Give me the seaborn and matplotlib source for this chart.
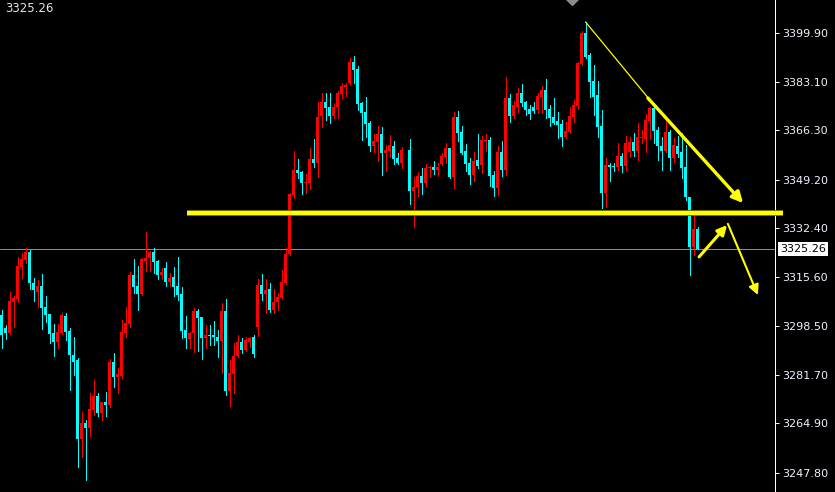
import numpy as np
import pandas as pd
import matplotlib
matplotlib.use("Agg")
import matplotlib.pyplot as plt
import seaborn as sns

# OHLC, one value per candle (NaN = empty slot)
opens = [
    3302.4, 3297.9, 3296.2, 3306.9, 3307.9, 3319.0, 3321.4, 3324.2, 3313.5, 3310.4,
    3312.4, 3305.2, 3302.8, 3296.2, 3293.1, 3296.2, 3302.1, 3296.9, 3288.6, 3286.9,
    3259.5, 3265.1, 3263.3, 3269.6, 3274.4, 3268.5, 3272.3, 3271.3, 3286.2, 3281.0,
    3281.3, 3296.2, 3299.3, 3316.2, 3312.4, 3309.7, 3321.1, 3322.1, 3324.2, 3321.1,
    3316.2, 3318.7, 3313.8, 3315.5, 3312.4, 3309.7, 3297.2, 3294.1, 3296.2, 3303.8,
    3301.7, 3294.5, 3295.5, 3295.5, 3294.8, 3293.4, 3303.8, 3276.1, 3282.0, 3288.2,
    3293.1, 3290.3, 3293.1, 3294.8, 3298.3, 3312.8, 3309.7, 3311.4, 3304.1, 3306.9,
    3308.3, 3313.5, 3323.5, 3343.9, 3352.5, 3351.8, 3348.0, 3348.0, 3356.3, 3355.0,
    3371.2, 3376.0, 3374.3, 3371.2, 3374.3, 3378.8, 3381.2, 3382.6, 3389.9, 3387.5,
    3375.7, 3372.6, 3368.8, 3360.8, 3362.2, 3365.0, 3358.4, 3359.1, 3360.8, 3356.7,
    3355.0, np.nan, 3359.4, 3345.3, 3346.7, 3350.5, 3348.0, 3353.2, 3353.6, 3352.5,
    3354.6, 3357.0, 3360.1, 3350.1, 3370.9, 3365.7, 3359.1, 3355.0, 3350.8, 3356.0,
    3354.3, 3362.6, 3362.9, 3350.8, 3346.3, 3358.8, 3352.5, 3377.4, 3371.2, 3374.3,
    3379.2, 3376.0, 3373.6, 3374.3, 3373.3, 3377.8, 3380.2, 3373.6, 3370.9, 3369.5,
    3368.4, 3363.9, 3365.7, 3370.9, 3374.7, 3389.2, 3399.9, 3392.3, 3383.3, 3378.5,
    3367.7, 3344.6, 3354.3, 3353.9, 3353.6, 3357.4, 3353.9, 3358.8, 3362.2, 3359.1,
    3363.6, 3363.3, 3369.5, 3374.0, 3366.4, 3360.8, 3359.1, 3365.7, 3356.7, 3360.8,
    3358.8, 3353.6, 3343.2, 3325.9, 3332.1,
]
highs = [
    3304.1, 3299.0, 3310.4, 3309.0, 3322.5, 3323.8, 3325.6, 3324.9, 3315.2, 3314.5,
    3316.6, 3309.0, 3302.8, 3299.3, 3299.3, 3303.1, 3303.1, 3297.9, 3294.8, 3287.5,
    3268.9, 3266.1, 3275.4, 3279.9, 3275.4, 3272.3, 3275.8, 3287.2, 3289.3, 3284.1,
    3300.7, 3305.2, 3317.3, 3321.8, 3319.3, 3322.1, 3331.1, 3324.5, 3325.6, 3321.4,
    3318.7, 3320.7, 3316.9, 3319.0, 3322.5, 3312.1, 3302.1, 3296.5, 3304.8, 3304.5,
    3301.7, 3299.0, 3299.0, 3300.3, 3297.2, 3306.6, 3307.9, 3286.9, 3292.7, 3295.5,
    3294.5, 3294.8, 3294.8, 3295.5, 3314.9, 3316.6, 3314.9, 3313.5, 3311.4, 3310.0,
    3318.0, 3325.6, 3344.6, 3359.1, 3356.3, 3352.2, 3351.2, 3360.1, 3363.3, 3376.0,
    3379.2, 3379.2, 3379.2, 3375.7, 3379.8, 3382.6, 3382.6, 3391.3, 3391.9, 3388.5,
    3376.0, 3377.8, 3369.5, 3365.0, 3367.7, 3367.4, 3361.2, 3364.6, 3362.6, 3358.4,
    3360.5, np.nan, 3363.3, 3350.1, 3351.8, 3353.2, 3354.6, 3353.9, 3355.6, 3355.0,
    3358.4, 3361.9, 3360.1, 3372.6, 3372.9, 3367.7, 3361.5, 3356.7, 3358.8, 3365.0,
    3364.3, 3365.0, 3363.9, 3352.2, 3360.8, 3362.6, 3384.7, 3378.8, 3376.4, 3380.9,
    3382.3, 3376.4, 3375.0, 3376.0, 3379.2, 3381.6, 3384.0, 3375.0, 3377.4, 3372.6,
    3369.8, 3369.1, 3374.3, 3376.7, 3389.9, 3400.6, 3403.7, 3393.0, 3388.8, 3383.3,
    3373.3, 3356.7, 3355.0, 3355.0, 3361.9, 3358.4, 3364.3, 3363.9, 3365.3, 3368.8,
    3366.4, 3371.9, 3374.3, 3375.7, 3367.4, 3363.9, 3369.8, 3366.4, 3363.6, 3364.3,
    3365.3, 3361.2, 3343.2, 3337.0, 3332.8,
]
lows = [
    3291.0, 3294.1, 3295.8, 3298.3, 3306.9, 3315.2, 3320.4, 3311.4, 3307.2, 3305.2,
    3297.6, 3300.0, 3292.7, 3288.2, 3291.0, 3295.8, 3293.8, 3276.5, 3281.7, 3249.9,
    3253.3, 3245.4, 3260.6, 3267.8, 3267.5, 3266.1, 3267.5, 3270.6, 3277.5, 3275.4,
    3280.6, 3294.8, 3298.3, 3310.0, 3304.1, 3309.3, 3317.6, 3317.6, 3316.9, 3314.9,
    3314.9, 3312.4, 3312.4, 3309.0, 3307.6, 3294.5, 3291.0, 3291.0, 3289.6, 3290.0,
    3287.2, 3291.0, 3292.0, 3292.0, 3287.9, 3282.4, 3274.8, 3271.0, 3275.4, 3288.0,
    3289.3, 3290.0, 3291.3, 3287.9, 3295.1, 3307.6, 3303.1, 3303.4, 3303.1, 3304.1,
    3307.9, 3313.2, 3323.2, 3342.9, 3349.8, 3344.2, 3344.6, 3346.0, 3353.6, 3350.1,
    3367.4, 3369.8, 3368.8, 3370.5, 3370.5, 3377.4, 3378.1, 3381.9, 3382.6, 3373.3,
    3362.9, 3363.9, 3359.1, 3358.8, 3355.6, 3350.8, 3352.2, 3357.0, 3354.6, 3354.6,
    3353.2, np.nan, 3340.8, 3332.8, 3343.5, 3344.2, 3347.0, 3350.1, 3351.2, 3350.5,
    3354.3, 3355.0, 3349.8, 3346.3, 3362.6, 3358.1, 3352.2, 3347.7, 3348.7, 3353.2,
    3351.5, 3359.1, 3347.0, 3343.5, 3343.9, 3350.5, 3350.8, 3369.1, 3370.5, 3372.6,
    3374.7, 3371.5, 3370.2, 3372.2, 3372.2, 3372.2, 3370.5, 3367.7, 3368.5, 3363.6,
    3360.8, 3363.6, 3365.3, 3369.1, 3373.6, 3388.9, 3391.3, 3377.8, 3371.5, 3363.9,
    3339.4, 3339.7, 3348.7, 3352.2, 3352.5, 3351.8, 3352.5, 3357.0, 3357.4, 3356.0,
    3361.9, 3358.8, 3363.3, 3361.9, 3356.0, 3352.5, 3358.8, 3352.5, 3355.3, 3357.0,
    3349.8, 3342.2, 3316.2, 3323.2, 3325.2,
]
closes = [
    3295.5, 3296.2, 3307.2, 3308.3, 3319.3, 3321.8, 3324.2, 3313.5, 3311.1, 3312.4,
    3304.8, 3302.4, 3295.8, 3293.1, 3296.5, 3302.4, 3296.5, 3288.6, 3286.2, 3259.5,
    3265.1, 3263.3, 3269.9, 3274.4, 3268.5, 3272.3, 3271.3, 3286.2, 3281.0, 3282.0,
    3296.5, 3299.6, 3316.2, 3312.1, 3309.7, 3321.8, 3322.1, 3324.2, 3320.7, 3316.2,
    3317.3, 3313.8, 3315.2, 3312.1, 3309.3, 3296.9, 3294.5, 3296.2, 3303.8, 3301.4,
    3294.5, 3295.5, 3295.1, 3294.8, 3293.4, 3303.8, 3276.1, 3282.4, 3288.2, 3293.1,
    3290.3, 3293.8, 3294.5, 3288.9, 3312.8, 3309.7, 3311.1, 3304.1, 3306.9, 3308.6,
    3313.8, 3323.5, 3344.2, 3352.5, 3351.5, 3348.0, 3348.4, 3356.3, 3355.0, 3370.9,
    3376.0, 3374.0, 3371.2, 3374.3, 3379.2, 3381.6, 3381.9, 3389.9, 3387.1, 3375.3,
    3372.2, 3368.4, 3360.8, 3362.6, 3365.0, 3358.4, 3359.4, 3361.2, 3356.3, 3355.0,
    3359.4, np.nan, 3345.3, 3346.7, 3350.5, 3348.0, 3353.2, 3353.6, 3352.5, 3353.6,
    3357.4, 3360.1, 3350.1, 3370.9, 3365.3, 3358.4, 3354.6, 3350.8, 3355.6, 3353.9,
    3362.9, 3362.9, 3350.5, 3346.3, 3358.8, 3352.5, 3377.4, 3371.2, 3375.0, 3379.2,
    3375.7, 3373.3, 3371.9, 3372.9, 3378.1, 3380.2, 3373.3, 3370.5, 3368.8, 3368.1,
    3363.9, 3366.0, 3371.2, 3375.0, 3389.5, 3399.9, 3391.6, 3383.0, 3377.8, 3367.4,
    3344.6, 3354.3, 3353.6, 3353.6, 3357.4, 3353.9, 3361.9, 3362.2, 3359.1, 3363.9,
    3363.9, 3369.8, 3374.0, 3366.0, 3360.8, 3359.1, 3365.7, 3356.7, 3361.2, 3358.1,
    3353.2, 3343.2, 3325.9, 3332.1, 3325.26,
]

price_ticks = [3399.90, 3383.10, 3366.30, 3349.20, 3332.40, 3315.60,
               3298.50, 3281.70, 3264.90, 3247.80]
last_price = 3325.26
support_level = 3337.7

# drawn objects (bar index, price)
trend_thin = [(146.0, 3403.7), (162.0, 3376.9)]
trend_arrow = [(161.6, 3377.4), (185.4, 3341.1)]
bounce_arrow = [(174.4, 3322.5), (181.4, 3333.5)]
drop_arrow = [(181.6, 3333.9), (189.1, 3309.3)]
support_span = (46.4, 195.4)

UP = "#ff0000"
DOWN = "#00ffff"
YELLOW = "#ffff00"

sns.set_theme(style="dark", rc={
    "axes.facecolor": "black",
    "figure.facecolor": "black",
    "savefig.facecolor": "black",
    "axes.grid": False,
})
plt.rcParams["font.family"] = ["DejaVu Sans"]

df = pd.DataFrame({"open": opens, "high": highs, "low": lows, "close": closes})
df["idx"] = np.arange(len(df))
df = df.dropna()
df["color"] = np.where(df["close"] >= df["open"], UP, DOWN)

fig = plt.figure(figsize=(8.35, 4.92), dpi=100)
ax = fig.add_axes([0, 0, 775 / 835, 1])

px = 0.72  # one pixel in points
ax.vlines(df["idx"], df["low"], df["high"], colors=df["color"], linewidth=px,
          antialiased=False, zorder=2)
body_low = np.minimum(df["open"], df["close"])
body_h = np.maximum((df["close"] - df["open"]).abs(), 0.35)
ax.bar(df["idx"], body_h, bottom=body_low, width=0.68, color=df["color"],
       linewidth=0, antialiased=False, zorder=3)

ax.axhline(last_price, color="#8c8c8c", linewidth=px, zorder=1)

# support line (runs a bit over the price scale)
ax.plot(support_span, [support_level, support_level], color="#6f6f00",
        linewidth=4.2, solid_capstyle="butt", clip_on=False, zorder=4)
ax.plot(support_span, [support_level, support_level], color=YELLOW,
        linewidth=3.0, solid_capstyle="butt", clip_on=False, zorder=5)

(x0, y0), (x1, y1) = trend_thin
ax.plot([x0, x1], [y0, y1], color=YELLOW, linewidth=0.9, zorder=5)

def arrow(pts, lw, scale):
    (xa, ya), (xb, yb) = pts
    ax.annotate("", xy=(xb, yb), xytext=(xa, ya),
                arrowprops=dict(arrowstyle="-|>", color=YELLOW, lw=lw,
                                mutation_scale=scale, shrinkA=0, shrinkB=0),
                zorder=6)

arrow(trend_arrow, 2.4, 16)
arrow(bounce_arrow, 2.2, 14)
arrow(drop_arrow, 1.5, 15)

# grey marker cut by the top edge
ax.plot([142.6], [3412.0], marker="D", markersize=7, color="#8a8a8a",
        clip_on=False, zorder=6)

ax.set_xlim(-0.375, 193.375)
ax.set_ylim(3241.2, 3411.3)
ax.set_xticks([])
ax.yaxis.tick_right()
ax.set_yticks(price_ticks)
ax.set_yticklabels([f"{t:.2f}" for t in price_ticks])
ax.tick_params(axis="y", which="major", right=True, left=False, direction="out",
               length=2.9, width=px, color="white", pad=2.2,
               labelsize=8, labelcolor="#f2f2ff")
for side in ["left", "top", "bottom"]:
    ax.spines[side].set_visible(False)
ax.spines["right"].set_visible(True)
ax.spines["right"].set_color("white")
ax.spines["right"].set_linewidth(px)

ax.annotate(f"{last_price:.2f}", xy=(1.0, last_price),
            xycoords=("axes fraction", "data"), xytext=(3.6, 0),
            textcoords="offset points", ha="left", va="center",
            fontsize=8, color="black", annotation_clip=False,
            bbox=dict(boxstyle="square,pad=0.2", fc="white", ec="none"))

fig.text(5 / 835, 1 - 2 / 492, f"{last_price:.2f}", ha="left", va="top",
         fontsize=8.5, color="#e6e6e6")

fig.savefig("out.png", dpi=100, facecolor="black")
